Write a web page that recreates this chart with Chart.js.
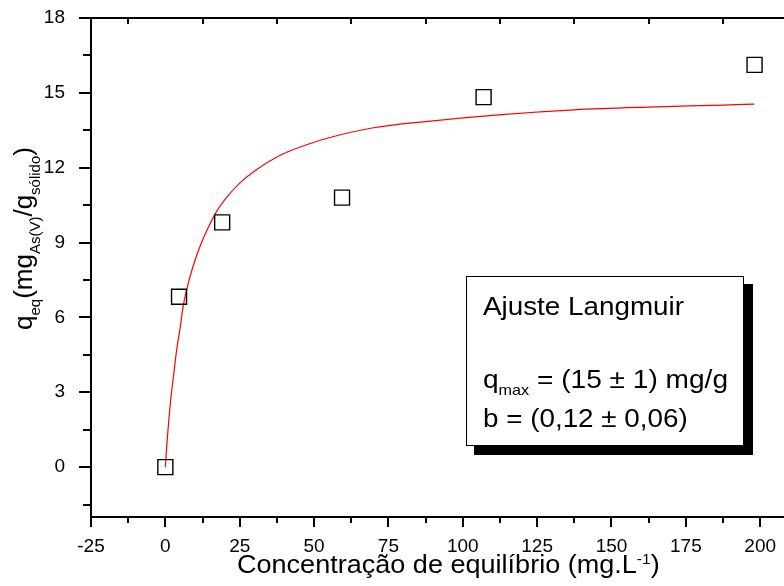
<!DOCTYPE html>
<html>
<head>
<meta charset="utf-8">
<script src="https://cdn.jsdelivr.net/npm/chart.js@4.4.1/dist/chart.umd.min.js"></script>
<style>
  body { margin: 0; background: #fff; }
  canvas { display: block; }
</style>
</head>
<body>
<canvas id="chart" width="784" height="586"></canvas>
<script>
// experimental points
const concEq = [0, 4.6, 19.1, 59.4, 107, 198.1]
const qEq = [0, 6.83, 9.81, 10.8, 14.83, 16.12]

// Langmuir fit curve
const fitConc = [0, 0.5, 1, 1.8, 2.7, 3.8, 5, 6, 8, 10, 12, 14.5, 17, 20, 25, 30, 38.6, 47.5, 55, 70, 87.5, 112, 137.5, 162.5, 187.5, 198]
const fitQ = [0, 0.9, 1.65, 2.7, 3.6, 4.7, 5.6, 6.45, 7.5, 8.3, 8.95, 9.62, 10.2, 10.72, 11.38, 11.87, 12.5, 12.92, 13.2, 13.6, 13.85, 14.12, 14.32, 14.43, 14.51, 14.55]

const xTicks = [-25, 0, 25, 50, 75, 100, 125, 150, 175, 200]
const yTicks = [0, 3, 6, 9, 12, 15, 18]

const FONT = 'Arial, "Liberation Sans", sans-serif'

function pairs(xs, ys) {
    return xs.map((x, i) => ({x: x, y: ys[i]}))
}

function midpoints(arr) {
    let out = []
    for (let i = 0; i < arr.length - 1; i++) out.push((arr[i] + arr[i + 1]) / 2)
    return out
}

// draws text runs: [text, size, shift] along a baseline, stretched sideways by sx
function drawRuns(ctx, runs, x, y, sx) {
    sx = sx || 1
    ctx.save()
    ctx.translate(x, y)
    ctx.scale(sx, 1)
    let cx = 0
    runs.forEach(r => {
        ctx.font = r[1] + 'px ' + FONT
        ctx.fillText(r[0], cx, r[2])
        cx += ctx.measureText(r[0]).width
    })
    ctx.restore()
}

function noPad(s) {
    s.paddingLeft = 0
    s.paddingRight = 0
    s.paddingTop = 0
    s.paddingBottom = 0
}

const framePlugin = {
    id: 'frame',
    afterDraw(chart) {
        const ctx = chart.ctx
        const a = chart.chartArea
        const xs = chart.scales.x
        const ys = chart.scales.y
        ctx.save()
        ctx.strokeStyle = '#000'
        ctx.fillStyle = '#000'
        ctx.lineWidth = 2

        // spines
        ctx.beginPath()
        ctx.moveTo(a.left, a.top); ctx.lineTo(a.left, a.bottom)
        ctx.moveTo(a.left - 1, a.bottom); ctx.lineTo(a.right, a.bottom)
        ctx.moveTo(a.left - 1, a.top); ctx.lineTo(a.right, a.top)
        ctx.stroke()

        // ticks
        ctx.beginPath()
        xTicks.forEach(v => {
            let px = Math.round(xs.getPixelForValue(v))
            ctx.moveTo(px, a.bottom); ctx.lineTo(px, a.bottom + 10)
        })
        midpoints(xTicks).forEach(v => {
            let px = Math.round(xs.getPixelForValue(v))
            ctx.moveTo(px, a.bottom); ctx.lineTo(px, a.bottom + 6)
            ctx.moveTo(px, a.top); ctx.lineTo(px, a.top + 6)
        })
        yTicks.forEach(v => {
            let py = Math.round(ys.getPixelForValue(v))
            ctx.moveTo(a.left, py); ctx.lineTo(a.left - 12, py)
        })
        let yMinor = midpoints(yTicks)
        yMinor.unshift(-1.5)
        yMinor.forEach(v => {
            let py = Math.round(ys.getPixelForValue(v))
            ctx.moveTo(a.left, py); ctx.lineTo(a.left - 8, py)
        })
        ctx.stroke()

        // x title
        ctx.textBaseline = 'alphabetic'
        ctx.textAlign = 'left'
        drawRuns(ctx, [['Concentração de equilíbrio (mg.L', 26, 0], ['-1', 15, -9], [')', 26, 0]], 237, 573, 1.04)

        // y title (rotated)
        ctx.save()
        ctx.translate(32, 330)
        ctx.rotate(-Math.PI / 2)
        drawRuns(ctx, [['q', 26, 0], ['eq', 15, 8], ['(mg', 26, 0], ['As(V)', 15, 8],
            ['/g', 26, 0], ['sólido', 15, 8], [')', 26, 0]], 0, 0, 1)
        ctx.restore()

        // annotation box with shadow
        ctx.fillRect(474, 284, 279, 171)
        ctx.fillStyle = '#fff'
        ctx.fillRect(466, 276, 278, 170)
        ctx.lineWidth = 1
        ctx.strokeRect(466.5, 276.5, 277, 169)
        ctx.fillStyle = '#000'
        drawRuns(ctx, [['Ajuste Langmuir', 26, 0]], 483, 315, 1.07)
        drawRuns(ctx, [['q', 26, 0], ['max', 15, 7], [' = (15 ± 1) mg/g', 26, 0]], 483, 388, 1.08)
        drawRuns(ctx, [['b = (0,12 ± 0,06)', 26, 0]], 483, 427, 1.07)
        ctx.restore()
    }
}

const chart = new Chart(document.getElementById('chart').getContext('2d'), {
    type: 'scatter',
    data: {
        datasets: [
            {
                label: 'experimental',
                data: pairs(concEq, qEq),
                pointStyle: 'rect',
                pointRadius: 10.6,
                pointHoverRadius: 10.6,
                pointBorderColor: '#000',
                pointBackgroundColor: 'rgba(0,0,0,0)',
                pointBorderWidth: 1.4,
                showLine: false
            },
            {
                label: 'Langmuir',
                data: pairs(fitConc, fitQ),
                showLine: true,
                borderColor: '#ff0000',
                borderWidth: 1.2,
                pointRadius: 0,
                cubicInterpolationMode: 'monotone'
            }
        ]
    },
    options: {
        responsive: false,
        animation: false,
        devicePixelRatio: 1,
        layout: { autoPadding: false, padding: { top: 18, right: 0, left: 0, bottom: 0 } },
        plugins: {
            legend: { display: false },
            tooltip: { enabled: false },
            title: { display: false }
        },
        scales: {
            x: {
                type: 'linear',
                min: -25,
                max: 208,
                afterBuildTicks: s => { s.ticks = xTicks.map(v => ({value: v})) },
                afterFit: s => { s.height = 69; noPad(s) },
                grid: { display: false },
                border: { display: false },
                ticks: {
                    color: '#000',
                    font: { family: FONT, size: 19 },
                    padding: 10,
                    maxRotation: 0,
                    autoSkip: false
                }
            },
            y: {
                min: -2,
                max: 18,
                afterBuildTicks: s => { s.ticks = yTicks.map(v => ({value: v})) },
                afterFit: s => { s.width = 91; noPad(s) },
                grid: { display: false },
                border: { display: false },
                ticks: {
                    color: '#000',
                    font: { family: FONT, size: 19 },
                    padding: 18,
                    autoSkip: false
                }
            }
        }
    },
    plugins: [framePlugin]
})
</script>
</body>
</html>
